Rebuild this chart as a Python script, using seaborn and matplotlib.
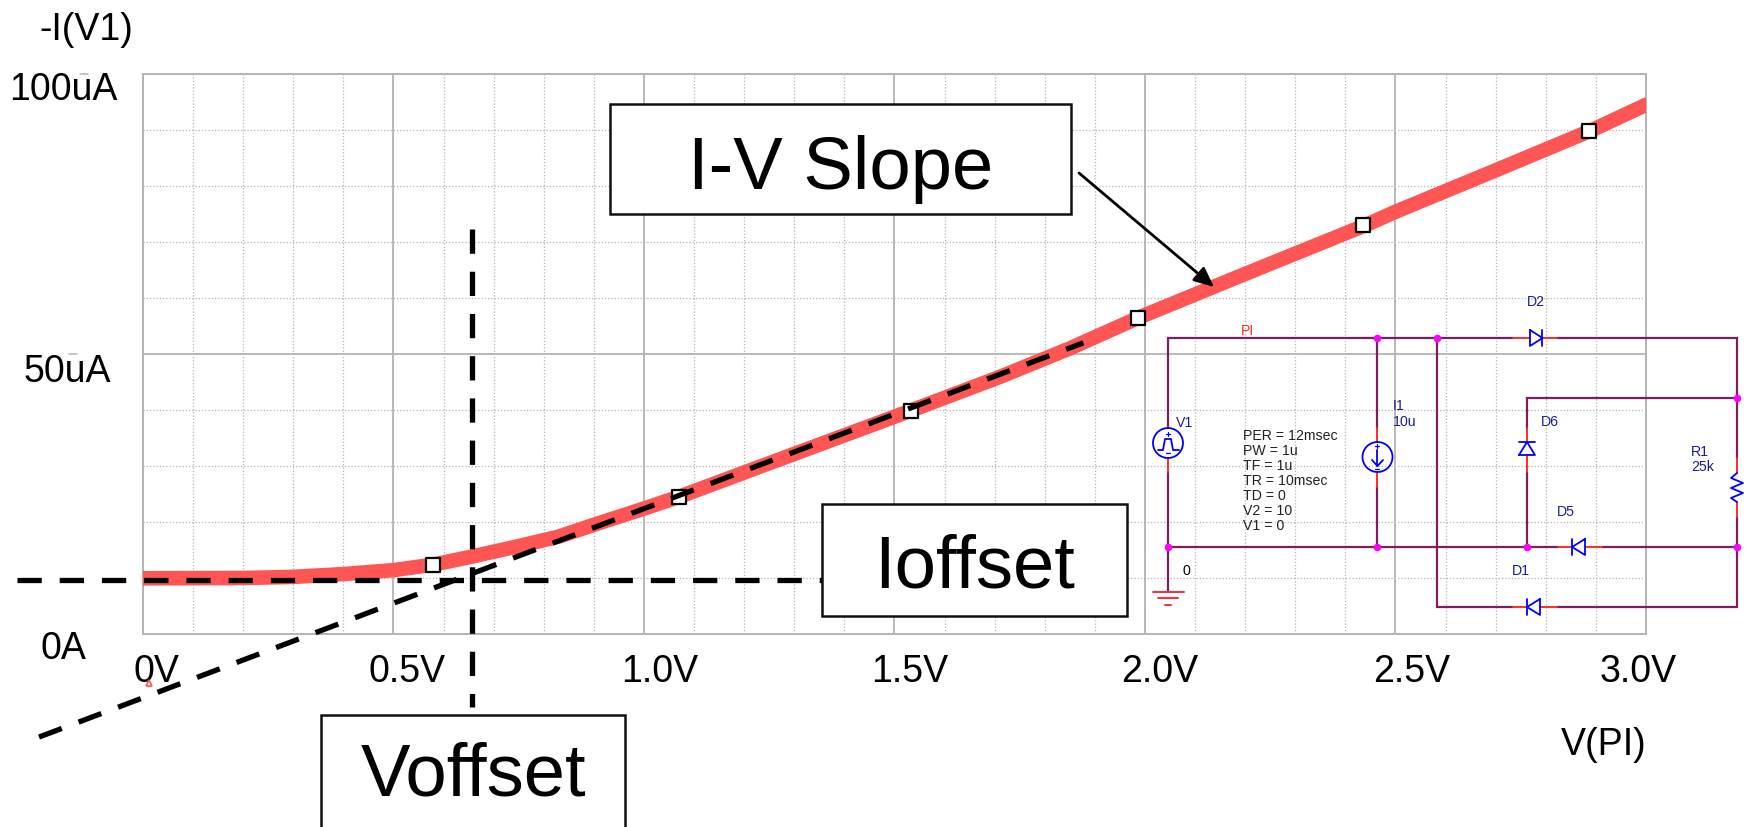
import seaborn as sns
import matplotlib.pyplot as plt
from matplotlib.patches import Circle, Rectangle
from matplotlib.transforms import ScaledTranslation

# curve
v_pi = [0.0, 0.2, 0.3, 0.4, 0.5, 0.58, 0.65, 0.75, 0.83, 0.91, 1.0, 1.07, 1.25, 1.5,
        1.71, 1.85, 1.99, 2.2, 2.44, 2.5, 2.7, 2.89, 3.0]
i_v1 = [9.95, 10.0, 10.2, 10.7, 11.4, 12.4, 13.7, 15.7, 17.4, 19.8, 22.4, 24.5, 30.5, 38.8,
        45.9, 51.0, 56.6, 64.3, 73.0, 75.4, 82.8, 89.9, 94.5]
marker_v = [0.579, 1.069, 1.533, 1.986, 2.436, 2.886]
marker_i = [12.4, 24.5, 39.9, 56.5, 73.0, 89.9]

x_ticks = [0, 0.5, 1.0, 1.5, 2.0, 2.5, 3.0]
x_labels = ["0V", "0.5V", "1.0V", "1.5V", "2.0V", "2.5V", "3.0V"]
y_ticks = [0, 50, 100]
y_labels = ["0A", "50uA", "100uA"]

# dashed construction lines
ioffset_v = [-0.251, 1.36]
ioffset_i = [9.7, 9.7]
voffset_v = [0.656, 0.656]
voffset_i = [72.3, -13.0]
slope_v = [-0.2075, 1.877]
slope_i = [-18.4, 52.0]

RED = "#ff5555"
GRID = "#b4b4b4"
WIRE = "#7d1f5c"
BLUE = "#0000ff"
LEAD = "#ff2a2a"
NAVY = "#1c1c96"
LABEL_SIZE = 27
SCH_SIZE = 10.2

sns.set_theme(style="white")
plt.rcParams["font.family"] = ["Liberation Sans", "DejaVu Sans"]

fig = plt.figure(figsize=(17.49, 8.27), dpi=100)
ax = fig.add_axes([143 / 1749, (827 - 634) / 827, 1503 / 1749, 560 / 827])

sns.lineplot(x=v_pi, y=i_v1, color=RED, linewidth=10.5, sort=False, estimator=None, ax=ax, zorder=3)
sns.scatterplot(x=marker_v, y=marker_i, marker="s", s=100, color="white", edgecolor="black",
                linewidth=1.6, ax=ax, zorder=4)

for xs, ys in [(ioffset_v, ioffset_i), (voffset_v, voffset_i), (slope_v, slope_i)]:
    ax.plot(xs, ys, color="black", lw=3.8, dashes=(4.6, 3.4), dash_capstyle="butt",
            clip_on=False, zorder=5)

ax.set_xlim(0, 3)
ax.set_ylim(0, 100)
ax.set_xticks(x_ticks)
ax.set_xticklabels(x_labels)
ax.set_yticks(y_ticks)
ax.set_yticklabels(y_labels)
ax.set_xticks([i / 10 for i in range(31)], minor=True)
ax.set_yticks(list(range(0, 101, 10)), minor=True)
ax.grid(True, which="major", color=GRID, lw=1.3, zorder=1)
ax.grid(True, which="minor", color=GRID, lw=0.9, ls=(0, (1, 1.6)), zorder=1)
ax.set_axisbelow(True)
ax.tick_params(axis="x", which="major", length=4.5, width=1.1, color=GRID, pad=10,
               labelsize=LABEL_SIZE, labelcolor="black")
ax.tick_params(axis="y", which="major", length=5, width=1.1, color=GRID, pad=0,
               labelsize=LABEL_SIZE, labelcolor="black")
ax.tick_params(which="minor", length=0)
for tick in ax.yaxis.get_major_ticks()[1:]:
    tick.tick1line.set_visible(False)
for spine in ax.spines.values():
    spine.set_color(GRID)
    spine.set_linewidth(1.4)

# the simulator puts its labels off the ticks, offsets in pixels
for lab, dx in zip(ax.get_xticklabels(), [13, 14, 16, 15, 15, 16, -8]):
    lab.set_transform(lab.get_transform() + ScaledTranslation(dx / 100, 0, fig.dpi_scale_trans))
for lab, dx, dy in zip(ax.get_yticklabels(), [-50, -25, -19], [-11, -14, -12]):
    lab.set_transform(lab.get_transform() + ScaledTranslation(dx / 100, dy / 100, fig.dpi_scale_trans))

# overlay in image pixels for the notes and the schematic
ov = fig.add_axes([0, 0, 1, 1], facecolor="none")
ov.set_xlim(0, 1749)
ov.set_ylim(827, 0)
ov.axis("off")

ov.text(39, 40, "-I(V1)", fontsize=LABEL_SIZE, color="black", ha="left", va="baseline")
ov.text(1561, 755, "V(PI)", fontsize=LABEL_SIZE, color="black", ha="left", va="baseline")
for xs, y in [((80, 88), 74), ((69, 77), 354)]:
    ov.plot(xs, (y, y), color=GRID, lw=1.1)
ov.plot([149.5], [683], marker="^", ms=5, mfc="none", mec=RED, mew=1.2)

# note boxes
for x0, y0, x1, y1, txt, tx, ty in [(610, 104, 1071, 214, "I-V Slope", 841, 170),
                                    (822, 504, 1127, 616, "Ioffset", 975, 568),
                                    (321, 715, 625, 840, "Voffset", 473, 776)]:
    ov.add_patch(Rectangle((x0, y0), x1 - x0, y1 - y0, fc="white", ec="#111111", lw=1.8, zorder=6,
                           clip_on=True))
    ov.text(tx, ty, txt, fontsize=53.5, color="black", ha="center", va="center", zorder=7)

ov.annotate("", xy=(1214, 287), xytext=(1079, 173), zorder=7,
            arrowprops=dict(arrowstyle="-|>,head_length=0.6,head_width=0.27", color="black", lw=2,
                            shrinkA=0, shrinkB=0, mutation_scale=20))

# schematic wires
wires = [[(1168, 427), (1168, 338), (1513, 338)],
         [(1557, 338), (1737, 338), (1737, 458)],
         [(1737, 517), (1737, 607), (1557, 607)],
         [(1513, 607), (1437.5, 607), (1437.5, 338)],
         [(1168, 472), (1168, 592)],
         [(1168, 547), (1558, 547)],
         [(1602, 547), (1737, 547)],
         [(1377.5, 338), (1377.5, 428)],
         [(1377.5, 487), (1377.5, 547)],
         [(1737, 397.7), (1527, 397.7), (1527, 428)],
         [(1527, 472), (1527, 547)]]
for w in wires:
    ov.plot(*zip(*w), color=WIRE, lw=1.6, zorder=8, solid_joinstyle="miter")

leads = [[(1168, 427), (1168, 428)], [(1168, 458), (1168, 472)],
         [(1377.5, 428), (1377.5, 442)], [(1377.5, 472), (1377.5, 487)],
         [(1513, 338), (1530, 338)], [(1542.5, 338), (1557, 338)],
         [(1513, 607), (1527, 607)], [(1540, 607), (1557, 607)],
         [(1558, 547), (1572, 547)], [(1585, 547), (1602, 547)],
         [(1527, 428), (1527, 442)], [(1527, 455), (1527, 472)],
         [(1737, 458), (1737, 473)], [(1737, 502), (1737, 517)],
         [(1153, 592), (1184, 592)], [(1158, 598), (1178, 598)], [(1165.5, 605), (1171, 605)]]
for w in leads:
    ov.plot(*zip(*w), color=LEAD, lw=1.4, zorder=9)

# diodes as triangle + bar
diodes = [[(1530, 330), (1530, 346), (1542.5, 338), (1530, 330), None, (1542.5, 330), (1542.5, 346)],
          [(1540, 599), (1540, 615), (1527, 607), (1540, 599), None, (1527, 599), (1527, 615)],
          [(1585, 539), (1585, 555), (1572, 547), (1585, 539), None, (1572, 539), (1572, 555)],
          [(1519, 455), (1535, 455), (1527, 442), (1519, 455), None, (1519, 442), (1535, 442)]]
for d in diodes:
    cut = d.index(None)
    ov.plot(*zip(*d[:cut]), color=BLUE, lw=1.3, zorder=9)
    ov.plot(*zip(*d[cut + 1:]), color=BLUE, lw=1.3, zorder=9)

ov.plot([1737, 1731, 1743, 1731, 1743, 1731, 1737], [473, 478, 483, 488, 493, 498, 502],
        color=BLUE, lw=1.3, zorder=9)

# sources
ov.add_patch(Circle((1168, 443), 15, fc="none", ec=BLUE, lw=1.3, zorder=9))
ov.add_patch(Circle((1377.5, 457), 15, fc="none", ec=BLUE, lw=1.3, zorder=9))
ov.plot([1158, 1163, 1165, 1171, 1173, 1179], [450, 450, 439, 439, 450, 450], color=BLUE, lw=1.3, zorder=9)
ov.plot([1377.5, 1377.5], [450, 466], color=BLUE, lw=1.3, zorder=9)
ov.plot([1372, 1377.5, 1383], [460, 466, 460], color=BLUE, lw=1.3, zorder=9)
for cx, y0, y1 in [(1168, 433.7, 453.3), (1377.5, 445.5, 468.5)]:
    ov.plot([cx - 2, cx + 2], [y0, y0], color=BLUE, lw=0.9, zorder=9)
    ov.plot([cx, cx], [y0 - 2, y0 + 2], color=BLUE, lw=0.9, zorder=9)
    ov.plot([cx - 2, cx + 2], [y1, y1], color=BLUE, lw=0.9, zorder=9)

# junction dots
dots_x = [1377.5, 1437.5, 1168, 1377.5, 1527, 1737, 1737]
dots_y = [338, 338, 547, 547, 547, 547, 397.7]
ov.scatter(dots_x, dots_y, s=30, color="#ff00ff", linewidths=0, zorder=10)

# schematic labels
for x, y, txt, col in [(1241, 335, "PI", "#ff2a2a"), (1527, 306, "D2", NAVY), (1176, 427, "V1", NAVY),
                       (1393, 410, "I1", NAVY), (1393, 426, "10u", NAVY), (1541, 426, "D6", NAVY),
                       (1691, 456, "R1", NAVY), (1691, 471, "25k", NAVY), (1556.5, 516, "D5", NAVY),
                       (1512, 575, "D1", NAVY), (1183, 575, "0", "black")]:
    ov.text(x, y, txt, fontsize=SCH_SIZE, color=col, ha="left", va="baseline", zorder=10)

params = ["PER = 12msec", "PW = 1u", "TF = 1u", "TR = 10msec", "TD = 0", "V2 = 10", "V1 = 0"]
for y, txt in zip([440, 455, 470, 485, 500, 515, 530], params):
    ov.text(1243, y, txt, fontsize=SCH_SIZE, color="#222222", ha="left", va="baseline", zorder=10)

fig.savefig("out.png", dpi=100, facecolor="white")
